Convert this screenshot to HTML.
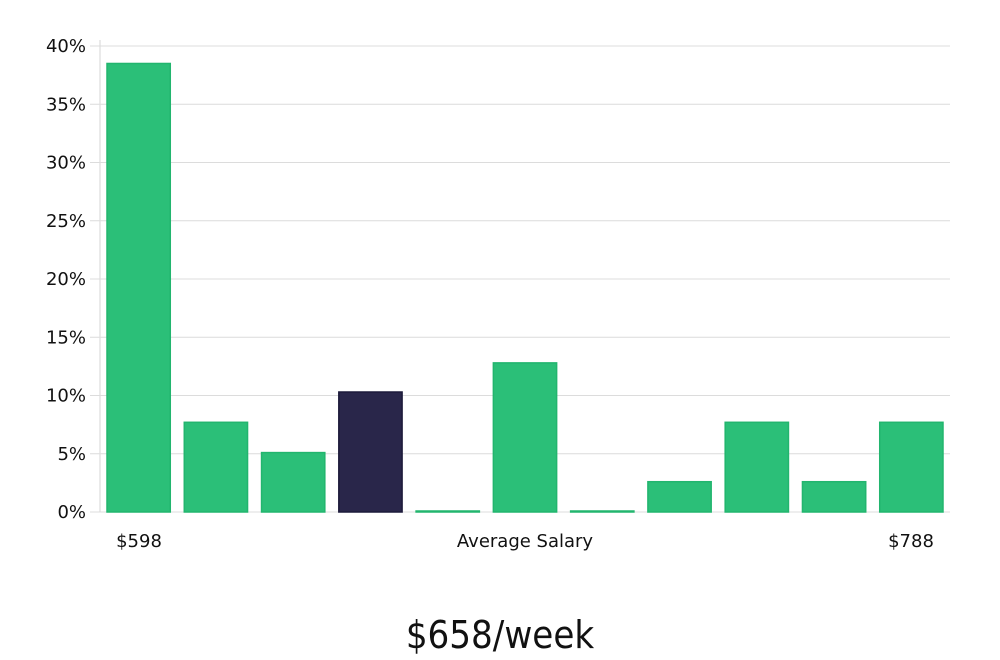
<!DOCTYPE html>
<html><head><meta charset="utf-8"><style>
html,body{margin:0;padding:0;background:#fff;width:1000px;height:660px;overflow:hidden}
svg text{font-family:"DejaVu Sans","Liberation Sans",sans-serif;fill:#111}
</style></head><body>
<svg id="chart" width="1000" height="660" xmlns="http://www.w3.org/2000/svg">
<g id="grid"></g>
<g id="bars"></g>
<g id="ylabels"></g>
<text x="139" y="547" font-size="18" text-anchor="middle">$598</text>
<text x="525" y="547" font-size="18" text-anchor="middle">Average Salary</text>
<text x="911" y="547" font-size="18" text-anchor="middle">$788</text>
<text x="500" y="648" font-size="38" text-anchor="middle" style="font-family:'Liberation Sans Narrow','DejaVu Sans Condensed','Liberation Sans',sans-serif;font-weight:300">$658/week</text>
</svg>
<script>
const values = [38.5, 7.7, 5.1, 10.3, 0, 12.8, 0, 2.6, 7.7, 2.6, 7.7];
const highlight = [false, false, false, true, false, false, false, false, false, false, false];
const yTicks = [0, 5, 10, 15, 20, 25, 30, 35, 40];
const yTickLabels = ["0%", "5%", "10%", "15%", "20%", "25%", "30%", "35%", "40%"];

const NS = "http://www.w3.org/2000/svg";
const x0 = 100, x1 = 950, y0 = 512, yTop = 46, yMax = 40;
const y = v => y0 - (v / yMax) * (y0 - yTop);
const band = (x1 - x0) / values.length;
const xb = i => x0 + i * band + 7;
const bw = band - 14;

const grid = document.getElementById('grid');
const yl = document.getElementById('ylabels');
const axis = document.createElementNS(NS, 'line');


axis.setAttribute('x1', x0); axis.setAttribute('x2', x0);
axis.setAttribute('y1', yTop - 6); axis.setAttribute('y2', y0);
axis.setAttribute('stroke', '#d6d6d6');
grid.appendChild(axis);
yTicks.forEach((t, i) => {
  const l = document.createElementNS(NS, 'line');
  
  
  l.setAttribute('x1', x0 - 10); l.setAttribute('x2', x1);
  l.setAttribute('y1', y(t)); l.setAttribute('y2', y(t));
  l.setAttribute('stroke', '#dcdcdc'); l.setAttribute('stroke-width', '1');
  grid.appendChild(l);
  const tx = document.createElementNS(NS, 'text');
  
  
  tx.setAttribute('x', 86); tx.setAttribute('y', y(t) + 6);
  tx.setAttribute('font-size', '18'); tx.setAttribute('text-anchor', 'end');
  tx.textContent = yTickLabels[i];
  yl.appendChild(tx);
});
const bars = document.getElementById('bars');
values.forEach((v, i) => {
  const r = document.createElementNS(NS, 'rect');
  
  
  const h = Math.max(y0 - y(v), 1);
  r.setAttribute('x', xb(i)); r.setAttribute('y', y0 - h);
  r.setAttribute('width', bw); r.setAttribute('height', h);
  r.setAttribute('fill', highlight[i] ? '#29264a' : '#2bbf78');
  r.setAttribute('stroke', highlight[i] ? '#1c1a3a' : '#22b56e');
  r.setAttribute('stroke-width', '1.5');
  bars.appendChild(r);
});
</script>
</body></html>
